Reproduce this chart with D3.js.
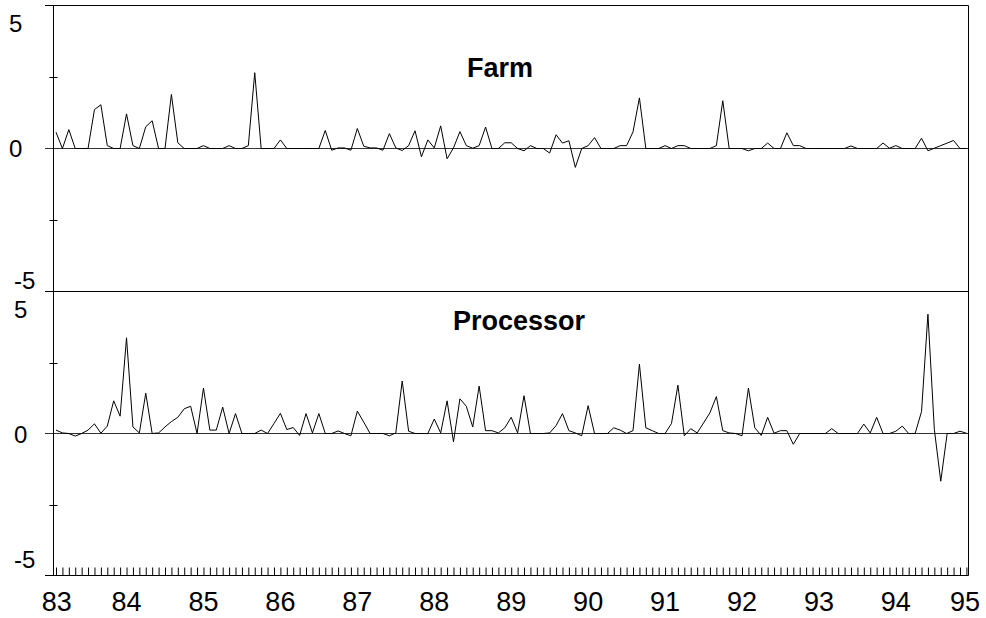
<!DOCTYPE html>
<html>
<head>
<meta charset="utf-8">
<script src="https://cdn.jsdelivr.net/npm/d3@7"></script>
<style>
body { margin: 0; background: #fff; }
svg { display: block; }
text { font-family: Arial, "Liberation Sans", sans-serif; fill: #000; }
</style>
</head>
<body>
<script>
// monthly values, 83:02 .. 94:12
var farm = [
  0.57, 0, 0.66, 0, 0, 0, 1.36, 1.53, 0.1, 0, 0, 1.21, 0.1, 0, 0.76, 0.97, 0, 0, 1.89, 0.2,
  0, 0, 0, 0.1, 0, 0, 0, 0.1, 0, 0, 0.1, 2.65, 0, 0, 0, 0.3, 0, 0, 0, 0,
  0, 0, 0.63, -0.06, 0.02, 0.02, -0.06, 0.7, 0.08, 0.02, 0.02, -0.06, 0.52, 0.02, -0.07, 0.1, 0.62, -0.29, 0.3, 0.02,
  0.79, -0.36, 0.02, 0.59, 0.1, 0.01, 0.1, 0.75, 0, 0, 0.2, 0.2, 0, -0.08, 0.1, 0, 0, -0.16, 0.48, 0.19,
  0.27, -0.66, 0, 0.1, 0.38, 0, 0, 0, 0.1, 0.1, 0.58, 1.77, 0, 0, 0, 0.1, 0, 0.1, 0.1, 0,
  0, 0, 0, 0.1, 1.67, 0, 0, 0, -0.08, 0, 0, 0.19, 0, 0, 0.55, 0.1, 0.1, 0, 0, 0,
  0, 0, 0, 0, 0.09, 0, 0, 0, 0, 0.19, 0.01, 0.1, 0, 0, 0, 0.36, -0.08, 0.01, 0.1, 0.19,
  0.28, 0, 0
];
var processor = [
  0.12, 0.02, 0, -0.09, 0, 0.12, 0.34, 0.01, 0.26, 1.15, 0.61, 3.37, 0.23, 0.02, 1.42, 0, 0.02, 0.23, 0.42, 0.57,
  0.87, 0.96, 0, 1.6, 0.12, 0.12, 0.93, 0, 0.7, 0, 0, 0, 0.12, 0, 0.35, 0.71, 0.14, 0.21, -0.07, 0.7,
  0.02, 0.7, 0, 0, 0.09, 0, -0.08, 0.79, 0.4, 0, 0, 0, -0.08, 0.02, 1.85, 0.08, 0, 0, 0, 0.51,
  0.02, 1.15, -0.29, 1.22, 0.96, 0.23, 1.67, 0.1, 0.1, 0.02, 0.2, 0.57, 0.02, 1.33, 0, 0, 0, 0.02, 0.28, 0.7,
  0.1, 0.02, -0.08, 0.98, 0, 0, 0, 0.2, 0.12, 0, 0.1, 2.44, 0.2, 0.1, 0, 0, 0.35, 1.7, -0.08, 0.17,
  0.02, 0.37, 0.73, 1.3, 0.1, 0.02, 0, -0.08, 1.6, 0.2, -0.07, 0.57, 0.01, 0.1, 0.1, -0.38, 0, 0, 0, 0,
  0, 0.17, 0, 0, 0, 0, 0.33, 0.02, 0.57, 0, 0, 0.08, 0.26, 0, 0, 0.77, 4.2, 0.14, -1.68, 0,
  0, 0.08, 0.01
];
var yearLabels = ["83", "84", "85", "86", "87", "88", "89", "90", "91", "92", "93", "94", "95"];
var panelTitles = ["Farm", "Processor"];
var yTickLabels = ["5", "0", "-5"];

var W = 986, H = 618;
var axL = 53.5, axR = 968.5, tickOut = 45;
var panels = [
  {top: 5.5, bottom: 291.5, values: farm, title: panelTitles[0], tx: 500, ty: 77,
   lab: [{x: 9, y: 32}, {x: 9, y: 157}, {x: 14, y: 289}]},
  {top: 291.5, bottom: 575.5, values: processor, title: panelTitles[1], tx: 519, ty: 330,
   lab: [{x: 14, y: 318}, {x: 14, y: 443}, {x: 14, y: 568}]}
];

var svg = d3.select("body").append("svg")
    .attr("width", W)
    .attr("height", H);

var x = d3.scaleLinear().domain([0, farm.length - 1]).range([56, 966.4]);

svg.append("clipPath").attr("id", "plot")
  .append("rect")
    .attr("x", axL).attr("y", 5)
    .attr("width", axR - axL).attr("height", 571);

panels.forEach(function (p) {
    var y = d3.scaleLinear().domain([-5, 5]).range([p.bottom, p.top]);

    // zero line
    svg.append("line")
        .attr("x1", tickOut).attr("x2", axR)
        .attr("y1", y(0)).attr("y2", y(0))
        .attr("stroke", "#333").attr("stroke-width", 1);

    // minor ticks at +-2.5
    [2.5, -2.5].forEach(function (v) {
        svg.append("line")
            .attr("x1", axL - 4).attr("x2", axL + 4)
            .attr("y1", Math.round(y(v)) + 0.5).attr("y2", Math.round(y(v)) + 0.5)
            .attr("stroke", "#000");
    });

    var line = d3.line()
        .x(function (d, i) { return x(i); })
        .y(function (d) { return y(d); });

    svg.append("path")
        .datum(p.values)
        .attr("clip-path", "url(#plot)")
        .attr("fill", "none")
        .attr("stroke", "#000")
        .attr("stroke-width", 1)
        .attr("d", line);

    svg.append("text")
        .attr("x", p.tx).attr("y", p.ty)
        .attr("text-anchor", "middle")
        .style("font-size", "27px")
        .style("font-weight", "bold")
        .text(p.title);

    yTickLabels.forEach(function (t, i) {
        svg.append("text")
            .attr("x", p.lab[i].x).attr("y", p.lab[i].y)
            .style("font-size", "24px")
            .text(t);
    });
});

// frame lines
[5.5, 291.5, 575.5].forEach(function (v) {
    svg.append("line")
        .attr("x1", tickOut).attr("x2", axR)
        .attr("y1", v).attr("y2", v)
        .attr("stroke", "#000");
});
svg.append("line").attr("x1", axL).attr("x2", axL).attr("y1", 5.5).attr("y2", 575.5).attr("stroke", "#000");
svg.append("line").attr("x1", axR).attr("x2", axR).attr("y1", 5.5).attr("y2", 575.5).attr("stroke", "#000");

// monthly ticks
var xAxis = d3.axisBottom(x)
    .tickValues(d3.range(farm.length))
    .tickSize(-8)
    .tickFormat("");
var gx = svg.append("g")
    .attr("transform", "translate(0,575.5)")
    .call(xAxis);
gx.select(".domain").remove();
gx.selectAll(".tick line").attr("stroke", "#000");

// year labels at each January, clamped inside the frame
yearLabels.forEach(function (t, k) {
    var pos = Math.min(Math.max(x(12 * k - 1), 56.7), 965);
    svg.append("text")
        .attr("x", pos).attr("y", 611)
        .attr("text-anchor", "middle")
        .style("font-size", "27px")
        .text(t);
});
</script>
</body>
</html>
